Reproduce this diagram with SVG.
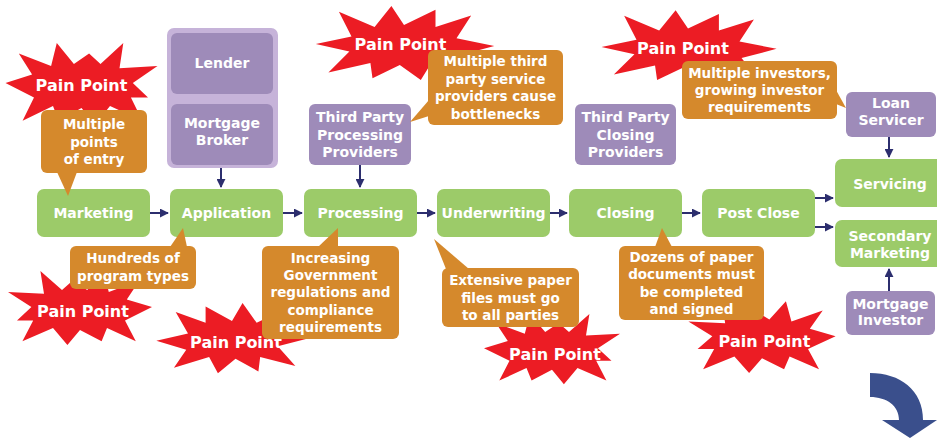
<svg xmlns="http://www.w3.org/2000/svg" xmlns:xlink="http://www.w3.org/1999/xlink" width="937" height="438" viewBox="0 0 937 438">
  <style>
    text { font-family: "DejaVu Sans", Verdana, sans-serif; font-weight: bold; fill: #ffffff; text-anchor: middle; }
    .step { fill: #9ccb69; }
    .party { fill: #9e8bb9; }
    .group { fill: #c6b3d9; }
    .note { fill: #d5892c; }
    .burst { fill: #ec1c24; }
    .t14 { font-size: 14px; }
    .t13 { font-size: 13.5px; }
    .t16 { font-size: 16px; }
    .link { stroke: #2c2e6e; stroke-width: 2; fill: none; marker-end: url(#head); }
  </style>
  <defs>
    <marker id="head" viewBox="0 0 10 10" refX="9" refY="5" markerWidth="4.5" markerHeight="4.5" orient="auto" markerUnits="strokeWidth">
      <path d="M0,0 L10,5 L0,10 z" fill="#2c2e6e"/>
    </marker>
    <polygon id="burstA" class="burst" points="-80,-2 -52,-10 -66,-30 -32,-18 -26,-40 -8,-20 8,-30 20,-20 44,-40 40,-16 80,-18 54,-2 70,12 52,12 64,34 30,20 14,38 0,22 -24,34 -30,20 -62,34 -50,12"/>
    <polygon id="burstB" class="burst" points="-84,0 -50,-8 -62,-34 -28,-18 -12,-40 0,-20 30,-36 30,-18 64,-30 50,-6 86,2 52,12 66,32 26,20 16,38 -4,22 -30,36 -32,20 -72,30 -52,8"/>
  </defs>

  <rect width="937" height="438" fill="#ffffff"/>

  <!-- pain point bursts, drawn first so the callouts sit over their spikes -->
  <g id="pain-1"><use xlink:href="#burstA" transform="translate(81.5,85) scale(0.95,1.05)"/><text class="t16" x="81.5" y="91">Pain Point</text></g>
  <g id="pain-2"><use xlink:href="#burstA" transform="translate(80,309) scale(-0.9,0.95)"/><text class="t16" x="83" y="317">Pain Point</text></g>
  <g id="pain-3"><use xlink:href="#burstB" transform="translate(232,339) scale(-0.88,0.9)"/><text class="t16" x="236" y="348">Pain Point</text></g>
  <g id="pain-4"><use xlink:href="#burstB" transform="translate(404,44) scale(1.05,0.95)"/><text class="t16" x="400.5" y="50">Pain Point</text></g>
  <g id="pain-5"><use xlink:href="#burstA" transform="translate(552,350) scale(0.85,0.9)"/><text class="t16" x="555" y="360">Pain Point</text></g>
  <g id="pain-6"><use xlink:href="#burstB" transform="translate(688,47) scale(1.03,0.92)"/><text class="t16" x="683" y="54">Pain Point</text></g>
  <g id="pain-7"><use xlink:href="#burstA" transform="translate(762,338) scale(-0.92,0.92)"/><text class="t16" x="764.5" y="346.5">Pain Point</text></g>

  <!-- main process steps -->
  <g id="marketing"><rect class="step" x="37" y="189" width="113" height="48" rx="7"/><text class="t14" x="93.5" y="218">Marketing</text></g>
  <g id="application"><rect class="step" x="170" y="189" width="113" height="48" rx="7"/><text class="t14" x="226.5" y="218">Application</text></g>
  <g id="processing"><rect class="step" x="304" y="189" width="113" height="48" rx="7"/><text class="t14" x="360.5" y="218">Processing</text></g>
  <g id="underwriting"><rect class="step" x="437" y="189" width="113" height="48" rx="7"/><text class="t14" x="493.5" y="218">Underwriting</text></g>
  <g id="closing"><rect class="step" x="569" y="189" width="113" height="48" rx="7"/><text class="t14" x="625.5" y="218">Closing</text></g>
  <g id="post-close"><rect class="step" x="702" y="189" width="113" height="48" rx="7"/><text class="t14" x="758.5" y="218">Post Close</text></g>
  <g id="servicing"><rect class="step" x="835" y="159" width="112" height="48" rx="7"/><text class="t14" x="890" y="189">Servicing</text></g>
  <g id="secondary-marketing"><rect class="step" x="835" y="220" width="112" height="47" rx="7"/><text class="t14" x="890" y="241">Secondary</text><text class="t14" x="890" y="258">Marketing</text></g>

  <!-- parties -->
  <g id="originators">
    <rect class="group" x="167" y="28" width="111" height="140" rx="7"/>
    <g id="lender"><rect class="party" x="171" y="33" width="102" height="61" rx="6"/><text class="t14" x="222" y="68">Lender</text></g>
    <g id="mortgage-broker"><rect class="party" x="171" y="104" width="102" height="61" rx="6"/><text class="t14" x="222" y="128">Mortgage</text><text class="t14" x="222" y="145">Broker</text></g>
  </g>
  <g id="third-party-processing"><rect class="party" x="309" y="104" width="102" height="61" rx="6"/><text class="t14" x="360" y="122">Third Party</text><text class="t14" x="360" y="139.5">Processing</text><text class="t14" x="360" y="157">Providers</text></g>
  <g id="third-party-closing"><rect class="party" x="575" y="104" width="101" height="61" rx="6"/><text class="t14" x="625.5" y="122">Third Party</text><text class="t14" x="625.5" y="139.5">Closing</text><text class="t14" x="625.5" y="157">Providers</text></g>
  <g id="loan-servicer"><rect class="party" x="846" y="92" width="90" height="45" rx="6"/><text class="t14" x="891" y="107.5">Loan</text><text class="t14" x="891" y="125">Servicer</text></g>
  <g id="mortgage-investor"><rect class="party" x="846" y="291" width="89" height="44" rx="6"/><text class="t14" x="890.5" y="308.5">Mortgage</text><text class="t14" x="890.5" y="325">Investor</text></g>

  <!-- connectors -->
  <g id="connectors">
    <line class="link" x1="150" y1="213" x2="168" y2="213"/>
    <line class="link" x1="283" y1="213" x2="302" y2="213"/>
    <line class="link" x1="417" y1="213" x2="435" y2="213"/>
    <line class="link" x1="550" y1="213" x2="567" y2="213"/>
    <line class="link" x1="682" y1="213" x2="700" y2="213"/>
    <line class="link" x1="815" y1="198" x2="833" y2="198"/>
    <line class="link" x1="815" y1="227" x2="833" y2="227"/>
    <line class="link" x1="221" y1="168" x2="221" y2="187"/>
    <line class="link" x1="360" y1="165" x2="360" y2="187"/>
    <line class="link" x1="889" y1="137" x2="889" y2="157"/>
    <line class="link" x1="889" y1="291" x2="889" y2="269"/>
  </g>

  <!-- callouts -->
  <g id="note-entry"><rect class="note" x="41" y="110" width="106" height="63" rx="6"/><polygon class="note" points="57,172 68,196 77,172"/><text class="t13" x="94" y="129">Multiple</text><text class="t13" x="94" y="146.5">points</text><text class="t13" x="94" y="164">of entry</text></g>
  <g id="note-programs"><rect class="note" x="70" y="246" width="126" height="43" rx="6"/><polygon class="note" points="170,247 183,228 187,247"/><text class="t13" x="133" y="263">Hundreds of</text><text class="t13" x="133" y="281">program types</text></g>
  <g id="note-regulations"><rect class="note" x="262" y="246" width="137" height="93" rx="6"/><polygon class="note" points="318,247 338,228 338,247"/><text class="t13" x="330.5" y="262.5">Increasing</text><text class="t13" x="330.5" y="280">Government</text><text class="t13" x="330.5" y="297">regulations and</text><text class="t13" x="330.5" y="314.5">compliance</text><text class="t13" x="330.5" y="332">requirements</text></g>
  <g id="note-paper-files"><rect class="note" x="442" y="268" width="137" height="59" rx="6"/><polygon class="note" points="434,239 446,269 469,269"/><text class="t13" x="510.5" y="285">Extensive paper</text><text class="t13" x="510.5" y="302.5">files must go</text><text class="t13" x="510.5" y="320">to all parties</text></g>
  <g id="note-documents"><rect class="note" x="619" y="246" width="145" height="74" rx="6"/><polygon class="note" points="655,247 662,228 672,247"/><text class="t13" x="691.5" y="262">Dozens of paper</text><text class="t13" x="691.5" y="279">documents must</text><text class="t13" x="691.5" y="296.5">be completed</text><text class="t13" x="691.5" y="313.5">and signed</text></g>
  <g id="note-bottlenecks"><rect class="note" x="428" y="50" width="135" height="75" rx="6"/><polygon class="note" points="429,100 410,122 429,116"/><text class="t13" x="495.5" y="66">Multiple third</text><text class="t13" x="495.5" y="83.5">party service</text><text class="t13" x="495.5" y="101">providers cause</text><text class="t13" x="495.5" y="118.5">bottlenecks</text></g>
  <g id="note-investors"><rect class="note" x="682" y="61" width="155" height="58" rx="6"/><polygon class="note" points="836,90 846,108 836,104"/><text class="t13" x="759.5" y="77.5">Multiple investors,</text><text class="t13" x="759.5" y="95">growing investor</text><text class="t13" x="759.5" y="112">requirements</text></g>

  <!-- continuation arrow -->
  <path id="continue-arrow" d="M870,373 C900,373 923,390 923,420 L937,420 L910,438 L882,420 L899,420 C899,406 887,397 870,397 Z" fill="#3a4f8c"/>
</svg>
